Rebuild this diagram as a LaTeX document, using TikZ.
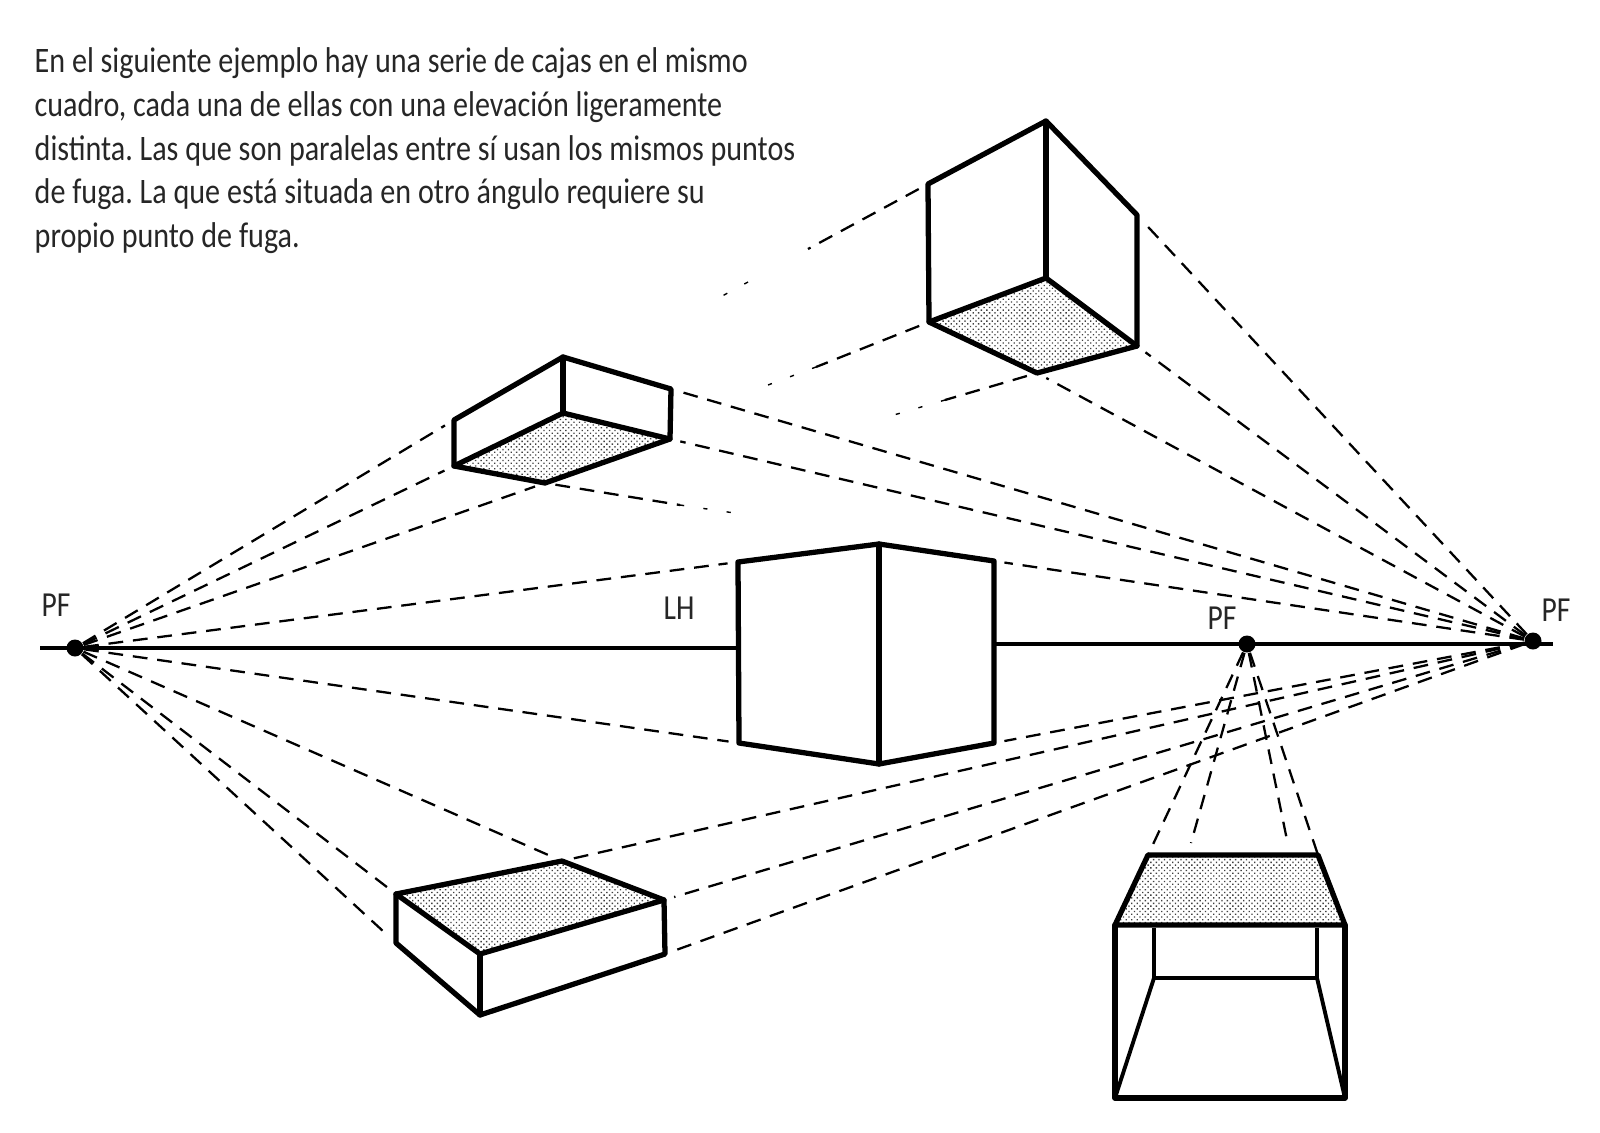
\documentclass[tikz,border=0pt]{standalone}
\usepackage{fontspec}
\setmainfont{Carlito}[FakeStretch=0.84]
\frenchspacing
\usetikzlibrary{patterns.meta}
\tikzset{
  core/.style={line width=1.5pt,black,line join=round,line cap=round},
  thin core/.style={line width=1.1pt,black,line join=round},
  horizon/.style={line width=1.1pt,black},
  vp/.style={circle,fill=black,minimum size=1.7mm,inner sep=0pt},
  guide/.style={line width=0.65pt,black,dash pattern=on 4.2pt off 2.8pt,shorten >=3pt},
  guidefade/.style={line width=0.4pt,black,dash pattern=on 1.2pt off 5.5pt},
  stipple/.style={pattern={Dots[distance=1.1pt,radius=0.27pt,angle=45]},pattern color=black!75},
  lab/.style={font=\fontsize{10}{12}\selectfont,text=black!85,inner sep=0pt},
}
\begin{document}
\begin{tikzpicture}[x=0.1mm,y=-0.1mm]
  \useasboundingbox (0,0) rectangle (1600,1133);
  \node[lab,anchor=north west,align=left,font=\fontsize{10.2}{12.45}\selectfont] (intro) at (34,47)
    {En el siguiente ejemplo hay una serie de cajas en el mismo\\
     cuadro, cada una de ellas con una elevación ligeramente\\
     distinta. Las que son paralelas entre sí usan los mismos puntos\\
     de fuga. La que está situada en otro ángulo requiere su\\
     propio punto de fuga.};
  % horizon and vanishing points
  \node[vp](pfl) at (75,648){}; \node[vp](pfm) at (1247,644){}; \node[vp](pfr) at (1533,641){};
  \coordinate (hl) at (40,648); \coordinate (hr) at (1553,644);
  \node[lab](pf1) at (56,605){PF}; \node[lab](pf2) at (1222,618){PF};
  \node[lab](pf3) at (1556,610){PF}; \node[lab](lh) at (679,608){LH};
  % top box
  \coordinate (at) at (1046,121); \coordinate (al) at (928,184); \coordinate (ar) at (1137,215);
  \coordinate (ab) at (929,322); \coordinate (ac) at (1137,346); \coordinate (ai) at (1046,278);
  \coordinate (af) at (1037,373);
  % upper left box
  \coordinate (bt) at (563,357); \coordinate (bl) at (454,420); \coordinate (br) at (671,389);
  \coordinate (bb) at (454,466); \coordinate (bc) at (670,439); \coordinate (bi) at (563,413);
  \coordinate (bf) at (545,483);
  % cube on the horizon
  \coordinate (ct) at (879,544); \coordinate (cl) at (738,562); \coordinate (cr) at (994,561);
  \coordinate (cb) at (739,743); \coordinate (cc) at (994,743); \coordinate (cf) at (879,764);
  % lower left box
  \coordinate (dk) at (562,861); \coordinate (dl) at (396,894); \coordinate (dr) at (664,900);
  \coordinate (dt) at (480,954); \coordinate (db) at (396,943); \coordinate (df) at (480,1015);
  \coordinate (dc) at (665,954);
  % lower right box
  \coordinate (el) at (1148,855); \coordinate (er) at (1318,855); \coordinate (ml) at (1115,925);
  \coordinate (mr) at (1345,925); \coordinate (il) at (1154,928); \coordinate (ir) at (1317,928);
  \coordinate (jl) at (1154,978); \coordinate (jr) at (1317,978); \coordinate (fl) at (1115,1098);
  \coordinate (fr) at (1345,1098);
  % free ends of the guides
  \coordinate (g1) at (1191,843); \coordinate (g2) at (1287,840);
  \coordinate (u1) at (808,249); \coordinate (u2) at (748,282); \coordinate (u3) at (713,301);
  \coordinate (v1) at (816,367); \coordinate (v2) at (768,385);
  \coordinate (w1) at (945,400); \coordinate (w2) at (887,417);
  \coordinate (x1) at (680,505); \coordinate (x2) at (748,515);
  % horizon
  \draw[horizon] (hl)--(cb |- pfl); \draw[horizon] (cc |- pfm)--(hr);
  % guides
  \foreach \t in {bl,bb,bf,cl,cb,dk,dl,db}
    {\draw[guide] (pfl)--(\t);}
  \foreach \t in {ar,ac,af,br,bc,cr,cc,dk,dr,dc}
    {\draw[guide] (pfr)--(\t);}
  \foreach \t in {el,g1,g2,er}
    {\draw[guide,shorten >=0pt] (pfm)--(\t);}
  % guides that die away
  \draw[guide,shorten >=0pt,shorten <=3pt] (al)--(u1); \draw[guidefade] (u2)--(u3);
  \draw[guide,shorten >=0pt,shorten <=3pt] (ab)--(v1); \draw[guidefade] (v1)--(v2);
  \draw[guide,shorten >=0pt,shorten <=3pt] (af)--(w1); \draw[guidefade] (w1)--(w2);
  \draw[guide,shorten >=0pt,shorten <=3pt] (bf)--(x1); \draw[guidefade] (x1)--(x2);
  % boxes, shaded face first
  \fill[white] (ab)--(ai)--(ac)--(af)--cycle; \fill[stipple] (ab)--(ai)--(ac)--(af)--cycle;
  \fill[white] (bb)--(bi)--(bc)--(bf)--cycle; \fill[stipple] (bb)--(bi)--(bc)--(bf)--cycle;
  \fill[white] (dl)--(dk)--(dr)--(dt)--cycle; \fill[stipple] (dl)--(dk)--(dr)--(dt)--cycle;
  \fill[white] (el)--(er)--(mr)--(ml)--cycle; \fill[stipple] (el)--(er)--(mr)--(ml)--cycle;
  \draw[core] (at)--(al)--(ab)--(af)--(ac)--(ar)--cycle; \draw[core] (at)--(ai);
  \draw[core] (ab)--(ai)--(ac);
  \draw[core] (bt)--(bl)--(bb)--(bf)--(bc)--(br)--cycle; \draw[core] (bt)--(bi);
  \draw[core] (bb)--(bi)--(bc);
  \draw[core] (ct)--(cl)--(cb)--(cf)--(cc)--(cr)--cycle; \draw[core] (ct)--(cf);
  \draw[core] (dl)--(dk)--(dr)--(dc)--(df)--(db)--cycle; \draw[core] (dl)--(dt)--(dr);
  \draw[core] (dt)--(df);
  \draw[core] (el)--(er)--(mr)--(ml)--cycle; \draw[core] (ml)--(fl)--(fr)--(mr);
  \draw[thin core] (il)--(jl)--(jr)--(ir); \draw[thin core] (jl)--(fl); \draw[thin core] (jr)--(fr);
\end{tikzpicture}
\end{document}
